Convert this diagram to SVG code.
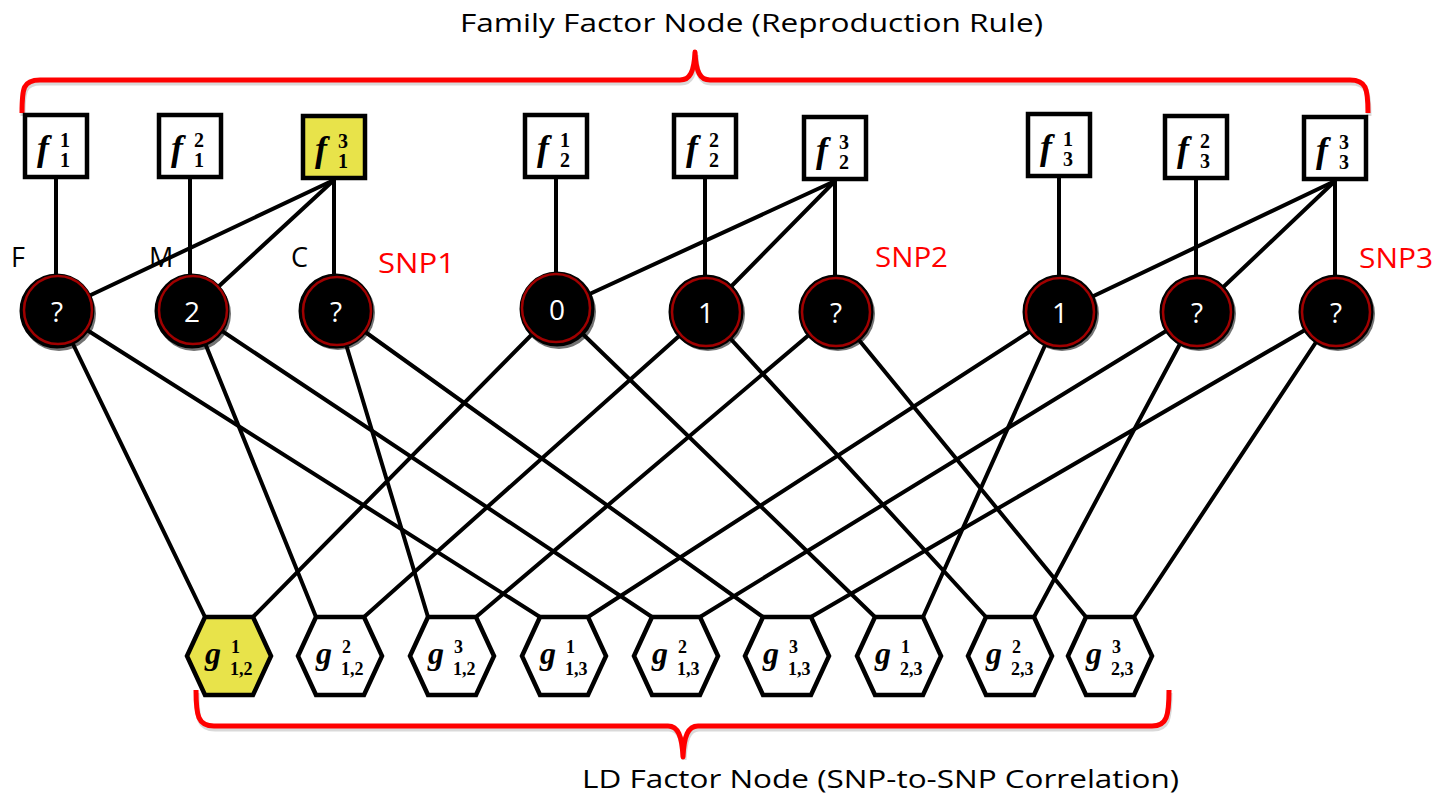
<svg xmlns="http://www.w3.org/2000/svg" width="1443" height="799" viewBox="0 0 1443 799">
  <style>
    .edge { stroke: #000; stroke-width: 4; fill: none; stroke-linecap: round; }
    .fbox { fill: #fff; stroke: #000; stroke-width: 4.5; }
    .fbox.sel, .hex.sel { fill: #E8E34A; }
    .hex { fill: #fff; stroke: #000; stroke-width: 4.5; stroke-linejoin: miter; }
    .var { fill: #000; stroke: #000; stroke-width: 3; }
    .ring { fill: none; stroke: #A00000; stroke-width: 2.5; }
    .shade { fill: #000; opacity: 0.55; }
    .fn { font-family: "Liberation Serif", serif; font-weight: bold; font-style: italic; font-size: 36px; fill: #000; }
    .gn { font-family: "Liberation Serif", serif; font-weight: bold; font-style: italic; font-size: 32px; fill: #000; }
    .idx { font-family: "Liberation Serif", serif; font-weight: bold; font-size: 20px; fill: #000; }
    .hidx { font-family: "Liberation Serif", serif; font-weight: bold; font-size: 18px; fill: #000; }
    .val { font-family: "Open Sans", "Liberation Sans", sans-serif; font-size: 28px; fill: #fff; text-anchor: middle; }
    .who { font-family: "Open Sans", "Liberation Sans", sans-serif; font-size: 27px; fill: #000; }
    .snp { font-family: "Open Sans", "Liberation Sans", sans-serif; font-size: 27px; fill: #FF0000; }
    .cap { font-family: "Open Sans", "Liberation Sans", sans-serif; font-size: 25px; fill: #000; }
    .brace { fill: none; stroke: #FF0000; stroke-width: 5; stroke-linejoin: round; }
    .brace-shadow { fill: none; stroke: #000; stroke-width: 5; opacity: 0.15; }
  </style>

  <!-- captions -->
  <text class="cap" x="460" y="32" textLength="583" lengthAdjust="spacingAndGlyphs">Family Factor Node (Reproduction Rule)</text>
  <text class="cap" x="582" y="788" textLength="597" lengthAdjust="spacingAndGlyphs">LD Factor Node (SNP-to-SNP Correlation)</text>

  <!-- braces -->
  <g id="braces">
    <path class="brace-shadow" transform="translate(1,3)" d="M22,113 C22,88 23,80 40,80 L680,80 C690,80 694,72 695,52 C696,72 700,80 710,80 L1350,80 C1366,80 1368,88 1368,113"/>
    <path class="brace" d="M22,113 C22,88 23,80 40,80 L680,80 C690,80 694,72 695,52 C696,72 700,80 710,80 L1350,80 C1366,80 1368,88 1368,113"/>
    <path class="brace-shadow" transform="translate(1,3)" d="M196,690 C196,716 198,726 214,726 L668,726 C678,726 682,736 683,757 C684,736 688,726 698,726 L1152,726 C1167,726 1169,716 1169,690"/>
    <path class="brace" d="M196,690 C196,716 198,726 214,726 L668,726 C678,726 682,736 683,757 C684,736 688,726 698,726 L1152,726 C1167,726 1169,716 1169,690"/>
  </g>

  <!-- connectors -->
  <g id="connectors">
    <!-- family factors to genotype variables -->
    <line class="edge" x1="56" y1="179" x2="56" y2="311"/>
    <line class="edge" x1="190" y1="179" x2="190" y2="311"/>
    <line class="edge" x1="334" y1="180" x2="334" y2="311"/>
    <line class="edge" x1="334" y1="180" x2="57" y2="311"/>
    <line class="edge" x1="334" y1="180" x2="192" y2="311"/>
    <line class="edge" x1="556" y1="179" x2="556" y2="309"/>
    <line class="edge" x1="705" y1="179" x2="705" y2="312"/>
    <line class="edge" x1="835" y1="181" x2="835" y2="312"/>
    <line class="edge" x1="835" y1="181" x2="557" y2="309"/>
    <line class="edge" x1="835" y1="181" x2="706" y2="312"/>
    <line class="edge" x1="1059" y1="178" x2="1059" y2="312"/>
    <line class="edge" x1="1196" y1="180" x2="1196" y2="312"/>
    <line class="edge" x1="1335" y1="181" x2="1335" y2="312"/>
    <line class="edge" x1="1335" y1="181" x2="1060" y2="312"/>
    <line class="edge" x1="1335" y1="181" x2="1197" y2="312"/>

    <!-- genotype variables to LD factors -->
    <line class="edge" x1="57" y1="311" x2="205" y2="617"/>
    <line class="edge" x1="557" y1="309" x2="253" y2="617"/>
    <line class="edge" x1="192" y1="311" x2="316" y2="617"/>
    <line class="edge" x1="706" y1="312" x2="364" y2="617"/>
    <line class="edge" x1="336" y1="311" x2="428" y2="617"/>
    <line class="edge" x1="836" y1="312" x2="476" y2="617"/>
    <line class="edge" x1="57" y1="311" x2="540" y2="617"/>
    <line class="edge" x1="1060" y1="312" x2="588" y2="617"/>
    <line class="edge" x1="192" y1="311" x2="652" y2="617"/>
    <line class="edge" x1="1197" y1="312" x2="700" y2="617"/>
    <line class="edge" x1="336" y1="311" x2="763" y2="617"/>
    <line class="edge" x1="1336" y1="312" x2="811" y2="617"/>
    <line class="edge" x1="557" y1="309" x2="875" y2="617"/>
    <line class="edge" x1="1060" y1="312" x2="923" y2="617"/>
    <line class="edge" x1="706" y1="312" x2="986" y2="617"/>
    <line class="edge" x1="1197" y1="312" x2="1034" y2="617"/>
    <line class="edge" x1="836" y1="312" x2="1086" y2="617"/>
    <line class="edge" x1="1336" y1="312" x2="1134" y2="617"/>
  </g>

  <!-- family factor nodes -->
  <g id="f1_1"><rect class="fbox" x="25" y="115" width="62" height="62"/><text class="fn" x="37" y="160">f</text><text class="idx" x="60" y="147">1</text><text class="idx" x="60" y="167">1</text></g>
  <g id="f1_2"><rect class="fbox" x="159" y="115" width="62" height="62"/><text class="fn" x="171" y="160">f</text><text class="idx" x="194" y="147">2</text><text class="idx" x="194" y="167">1</text></g>
  <g id="f1_3"><rect class="fbox sel" x="303" y="116" width="62" height="62"/><text class="fn" x="315" y="161">f</text><text class="idx" x="338" y="148">3</text><text class="idx" x="338" y="168">1</text></g>
  <g id="f2_1"><rect class="fbox" x="525" y="115" width="62" height="62"/><text class="fn" x="537" y="160">f</text><text class="idx" x="560" y="147">1</text><text class="idx" x="560" y="167">2</text></g>
  <g id="f2_2"><rect class="fbox" x="674" y="115" width="62" height="62"/><text class="fn" x="686" y="160">f</text><text class="idx" x="709" y="147">2</text><text class="idx" x="709" y="167">2</text></g>
  <g id="f2_3"><rect class="fbox" x="804" y="117" width="62" height="62"/><text class="fn" x="816" y="162">f</text><text class="idx" x="839" y="149">3</text><text class="idx" x="839" y="169">2</text></g>
  <g id="f3_1"><rect class="fbox" x="1028" y="114" width="62" height="62"/><text class="fn" x="1040" y="159">f</text><text class="idx" x="1063" y="146">1</text><text class="idx" x="1063" y="166">3</text></g>
  <g id="f3_2"><rect class="fbox" x="1165" y="116" width="62" height="62"/><text class="fn" x="1177" y="161">f</text><text class="idx" x="1200" y="148">2</text><text class="idx" x="1200" y="168">3</text></g>
  <g id="f3_3"><rect class="fbox" x="1304" y="117" width="62" height="62"/><text class="fn" x="1316" y="162">f</text><text class="idx" x="1339" y="149">3</text><text class="idx" x="1339" y="169">3</text></g>

  <!-- individual labels -->
  <text class="who" x="11" y="267">F</text>
  <text class="who" x="149" y="267">M</text>
  <text class="who" x="291" y="267">C</text>
  <text class="snp" x="378" y="273" textLength="77" lengthAdjust="spacingAndGlyphs">SNP1</text>
  <text class="snp" x="875" y="267" textLength="73" lengthAdjust="spacingAndGlyphs">SNP2</text>
  <text class="snp" x="1359" y="268" textLength="74" lengthAdjust="spacingAndGlyphs">SNP3</text>

  <!-- genotype variable nodes -->
  <g id="v_F1"><circle class="shade" cx="59" cy="314" r="37"/><circle class="var" cx="57" cy="311" r="36"/><circle class="ring" cx="58" cy="310" r="34"/><text class="val" x="57" y="322">?</text></g>
  <g id="v_M1"><circle class="shade" cx="194" cy="314" r="37"/><circle class="var" cx="192" cy="311" r="36"/><circle class="ring" cx="193" cy="310" r="34"/><text class="val" x="192" y="322">2</text></g>
  <g id="v_C1"><circle class="shade" cx="338" cy="313" r="37"/><circle class="var" cx="336" cy="311" r="36"/><circle class="ring" cx="337" cy="311" r="34"/><text class="val" x="336" y="322">?</text></g>
  <g id="v_F2"><circle class="shade" cx="559" cy="312" r="37"/><circle class="var" cx="557" cy="309" r="36"/><circle class="ring" cx="556" cy="308" r="34"/><text class="val" x="557" y="320">0</text></g>
  <g id="v_M2"><circle class="shade" cx="708" cy="314" r="37"/><circle class="var" cx="706" cy="312" r="36"/><circle class="ring" cx="706" cy="312" r="34"/><text class="val" x="706" y="323">1</text></g>
  <g id="v_C2"><circle class="shade" cx="838" cy="314" r="37"/><circle class="var" cx="836" cy="312" r="36"/><circle class="ring" cx="836" cy="312" r="34"/><text class="val" x="836" y="323">?</text></g>
  <g id="v_F3"><circle class="shade" cx="1062" cy="314" r="37"/><circle class="var" cx="1060" cy="312" r="36"/><circle class="ring" cx="1060" cy="312" r="34"/><text class="val" x="1060" y="323">1</text></g>
  <g id="v_M3"><circle class="shade" cx="1199" cy="314" r="37"/><circle class="var" cx="1197" cy="312" r="36"/><circle class="ring" cx="1197" cy="312" r="34"/><text class="val" x="1197" y="323">?</text></g>
  <g id="v_C3"><circle class="shade" cx="1338" cy="314" r="37"/><circle class="var" cx="1336" cy="312" r="36"/><circle class="ring" cx="1336" cy="312" r="34"/><text class="val" x="1336" y="323">?</text></g>

  <!-- LD factor nodes -->
  <g id="g12_1"><polygon class="hex sel" points="187,656 205,617 253,617 271,656 253,695 205,695"/><text class="gn" x="205" y="664">g</text><text class="hidx" x="231" y="653">1</text><text class="hidx" x="230" y="675">1,2</text></g>
  <g id="g12_2"><polygon class="hex" points="298,656 316,617 364,617 382,656 364,695 316,695"/><text class="gn" x="316" y="664">g</text><text class="hidx" x="342" y="653">2</text><text class="hidx" x="341" y="675">1,2</text></g>
  <g id="g12_3"><polygon class="hex" points="410,656 428,617 476,617 494,656 476,695 428,695"/><text class="gn" x="428" y="664">g</text><text class="hidx" x="454" y="653">3</text><text class="hidx" x="453" y="675">1,2</text></g>
  <g id="g13_1"><polygon class="hex" points="522,656 540,617 588,617 606,656 588,695 540,695"/><text class="gn" x="540" y="664">g</text><text class="hidx" x="566" y="653">1</text><text class="hidx" x="565" y="675">1,3</text></g>
  <g id="g13_2"><polygon class="hex" points="634,656 652,617 700,617 718,656 700,695 652,695"/><text class="gn" x="652" y="664">g</text><text class="hidx" x="678" y="653">2</text><text class="hidx" x="677" y="675">1,3</text></g>
  <g id="g13_3"><polygon class="hex" points="745,656 763,617 811,617 829,656 811,695 763,695"/><text class="gn" x="763" y="664">g</text><text class="hidx" x="789" y="653">3</text><text class="hidx" x="788" y="675">1,3</text></g>
  <g id="g23_1"><polygon class="hex" points="857,656 875,617 923,617 941,656 923,695 875,695"/><text class="gn" x="875" y="664">g</text><text class="hidx" x="901" y="653">1</text><text class="hidx" x="900" y="675">2,3</text></g>
  <g id="g23_2"><polygon class="hex" points="968,656 986,617 1034,617 1052,656 1034,695 986,695"/><text class="gn" x="986" y="664">g</text><text class="hidx" x="1012" y="653">2</text><text class="hidx" x="1011" y="675">2,3</text></g>
  <g id="g23_3"><polygon class="hex" points="1068,656 1086,617 1134,617 1152,656 1134,695 1086,695"/><text class="gn" x="1086" y="664">g</text><text class="hidx" x="1112" y="653">3</text><text class="hidx" x="1111" y="675">2,3</text></g>
</svg>
